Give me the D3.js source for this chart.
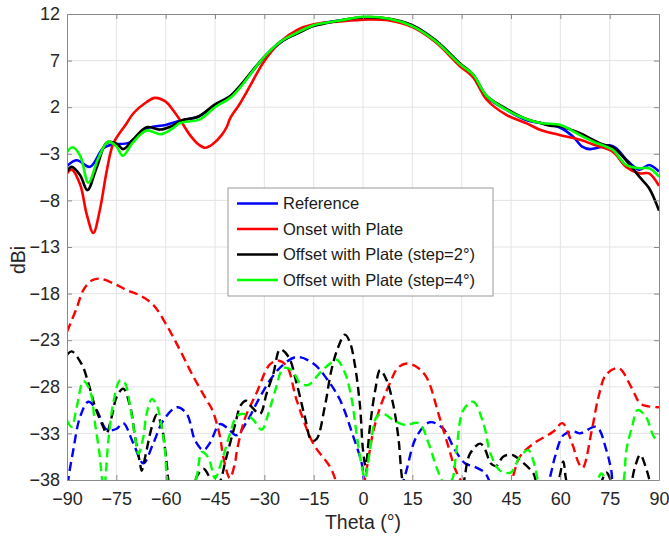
<!DOCTYPE html>
<html>
<head>
<meta charset="utf-8">
<script src="https://cdn.jsdelivr.net/npm/d3@7"></script>
<style>
  body { margin: 0; background: #fff; }
  svg { font-family: Arial, "Liberation Sans", sans-serif; }
</style>
</head>
<body>
<svg width="669" height="538"></svg>
<script>
// tick values
var xTicks = [-90, -75, -60, -45, -30, -15, 0, 15, 30, 45, 60, 75, 90];
var yTicks = [-38, -33, -28, -23, -18, -13, -8, -3, 2, 7, 12];

var seriesNames = ["Reference", "Onset with Plate", "Offset with Plate (step=2°)", "Offset with Plate (step=4°)"];
var seriesColors = ["#0000ff", "#ff0000", "#000000", "#00ff00"];

// solid curves (main lobe), [theta, dBi]
var refSolid = [[-90,-4.3],[-87,-3.7],[-83,-4.4],[-79,-2.4],[-76,-2.0],[-71,-1.8],[-66,-0.3],[-60,0.1],[-55,0.6],[-50,1.0],[-45,2.2],[-40.4,3.1],[-37.4,4.2],[-30.3,7.25],[-25.2,8.9],[-20,10.0],[-15,10.8],[-7,11.3],[0,11.55],[8,11.4],[15,10.7],[22,9.1],[29.5,6.6],[33.5,5.4],[37.6,3.1],[43.7,1.7],[49.8,0.6],[54,0.3],[60,-0.2],[64,-1.2],[66.5,-2.2],[69,-2.5],[72,-2.3],[75,-2.1],[77,-2.4],[80,-3.6],[84,-4.7],[87,-4.2],[90,-4.9]];
var onsetSolid = [[-90,-5.1],[-88.6,-4.7],[-86,-6.3],[-84,-9.5],[-82,-11.5],[-80,-9.0],[-78,-5.0],[-75.9,-1.9],[-72,0.2],[-69.8,1.35],[-66,2.5],[-63.3,3.0],[-60,2.6],[-57.8,1.7],[-55,0.3],[-52.6,-1.0],[-50,-2.0],[-48,-2.35],[-45.5,-1.9],[-43,-1.0],[-41.4,-0.1],[-40.4,0.8],[-37.4,2.4],[-34,4.5],[-30.3,6.8],[-25.2,9.0],[-20,10.3],[-15,10.9],[-7,11.2],[0,11.4],[8,11.3],[15,10.6],[22,9.0],[29.5,6.4],[33.5,5.2],[37.6,2.8],[43.7,1.16],[49.8,0.27],[54,-0.45],[60,-1.0],[66,-1.5],[70,-2.0],[76,-2.8],[80,-4.4],[84,-5.1],[87,-5.1],[90,-6.45]];
var off2Solid = [[-90,-4.9],[-88.6,-4.4],[-86,-5.3],[-83.8,-6.9],[-81,-4.5],[-77.9,-1.8],[-75,-1.9],[-72.9,-2.5],[-70,-1.5],[-65.8,-0.15],[-61.7,-0.4],[-58,0.0],[-55,0.6],[-50,1.0],[-45,2.3],[-40.4,3.2],[-37.4,4.3],[-30.3,7.3],[-25.2,9.0],[-20,9.9],[-15,10.7],[-7,11.3],[0,11.65],[8,11.5],[15,10.8],[22,9.2],[29.5,6.7],[33.5,5.5],[37.6,3.2],[43.7,1.8],[49.8,0.7],[54,0.3],[57,0.0],[60,-0.05],[63,-0.4],[66,-0.8],[70,-1.5],[73,-2.0],[76,-2.3],[80,-3.7],[84,-5.45],[87,-6.7],[90,-9.1]];
var off4Solid = [[-90,-2.8],[-88.3,-2.3],[-86,-3.2],[-83.5,-6.1],[-80.5,-3.5],[-77.5,-1.7],[-75,-2.2],[-73,-3.2],[-70,-1.8],[-65.8,-0.5],[-61.5,-0.9],[-58,-0.3],[-55.6,0.3],[-49.6,0.7],[-45,2.0],[-40.4,3.0],[-37.4,4.1],[-30.3,7.3],[-25.2,9.0],[-20,10.0],[-15,10.8],[-7,11.3],[0,11.7],[8,11.5],[15,10.7],[22,9.1],[29.5,6.6],[33.5,5.5],[37.6,3.2],[43.7,1.7],[49.8,0.7],[54,0.3],[60,0.1],[63,-0.4],[66,-1.0],[70,-1.7],[73,-2.1],[76,-2.6],[80,-4.2],[84,-4.55],[87,-4.55],[90,-5.45]];

// dashed curves (lower level), [theta, dBi]
var refDashed = [[-90,-40],[-89.6,-38],[-88.1,-34.8],[-86,-31.2],[-83.5,-29.6],[-81,-30.5],[-77.9,-32.6],[-74.9,-32.5],[-72.9,-31.9],[-69.8,-34.1],[-66.8,-36.2],[-63.8,-34.1],[-60.7,-31.6],[-56.6,-30.2],[-53.6,-30.9],[-51,-33.8],[-48.5,-34.8],[-46.5,-34],[-43.5,-32],[-41,-32.5],[-38.5,-33.2],[-35.4,-31.8],[-31.8,-29.4],[-28.3,-27.3],[-24.8,-25.8],[-20.2,-24.8],[-15.1,-25.5],[-11.1,-27.1],[-7,-29.4],[-2.9,-33.4],[-0.4,-36.2],[0.5,-38.5],[3,-42],[10,-42],[12,-38.5],[13.2,-37],[16.2,-33.4],[20.3,-31.8],[24.4,-32.5],[28,-34.8],[31,-36.2],[34,-36.6],[37,-37.2],[39,-38.5],[45,-42],[55,-40],[57,-37.5],[58.4,-35.5],[60.9,-33.2],[64,-32.8],[66,-33.0],[71,-32.3],[74,-34.8],[75.5,-37],[77,-40],[90,-42]];
var onsetDashed = [[-90,-22.1],[-87,-19.5],[-85,-17.6],[-82.5,-16.6],[-80,-16.4],[-75.9,-16.9],[-72,-17.6],[-67.8,-18.2],[-63.8,-19.2],[-59.7,-21.4],[-55.6,-24.1],[-51.6,-26.9],[-47.6,-29.4],[-45.8,-30.5],[-43.5,-33.3],[-42.5,-35.5],[-40.5,-37.8],[-39,-36.3],[-38.3,-34.8],[-36,-31.5],[-32.3,-28.6],[-28.3,-25.6],[-25.5,-25.2],[-23,-25.9],[-20.2,-29.4],[-15.1,-34.1],[-10,-36.6],[-8,-38.3],[-5,-41],[-1,-40],[1,-37],[3,-33],[5.2,-30.2],[8.2,-27.6],[10.5,-26.0],[13.2,-25.5],[16,-25.8],[19.2,-26.9],[23.2,-31.2],[26.2,-34.7],[28,-36.8],[30,-38.2],[33,-39.5],[38,-41],[43,-39.5],[45.2,-38],[47.7,-35.5],[51.8,-34.1],[57.9,-32.8],[60.6,-31.9],[63.6,-34.1],[65.6,-36.2],[66.8,-36.7],[69.6,-32.6],[71.6,-29.1],[73.9,-26.7],[77.7,-26.0],[81.8,-28.2],[84.3,-29.8],[86.8,-30.1],[90,-30.2]];
var off2Dashed = [[-90,-24.6],[-88.6,-24.2],[-85.5,-25.6],[-83.5,-27.6],[-81.5,-30.1],[-79,-32.3],[-78,-33.0],[-76.4,-31.2],[-74.9,-29.1],[-72.9,-28.2],[-70.8,-30.1],[-69.3,-33.4],[-67.8,-36.2],[-67.3,-37.0],[-65.8,-34.8],[-64.2,-32.3],[-62.7,-31.0],[-61.2,-32.3],[-59.7,-36.2],[-59,-38.3],[-56,-41],[-52,-39.5],[-50.5,-37.6],[-48.5,-36.8],[-46.8,-37.6],[-45,-39],[-43.5,-38.2],[-41.5,-35.5],[-39,-32.2],[-37.2,-30.0],[-35.5,-29.5],[-33.5,-30.3],[-31.3,-30.9],[-29.3,-28.7],[-27.2,-26.5],[-25.2,-24.0],[-22.6,-24.8],[-20.2,-27.6],[-17.7,-31.2],[-15.6,-33.8],[-14.1,-33.6],[-11.6,-30.1],[-9.6,-26.2],[-7.5,-23.7],[-5.5,-22.4],[-4,-23.2],[-2.4,-25.8],[-0.9,-30.1],[0,-34.8],[0.8,-36.5],[2.1,-32.3],[3.7,-28.4],[5.2,-26.2],[7.2,-27.3],[9.3,-30.1],[10.8,-33.6],[11.8,-37.6],[13,-40],[25,-42],[30,-39],[32.5,-35.2],[35.6,-34.1],[37.2,-34.8],[38.8,-36.2],[40.5,-36.5],[42.6,-35.5],[45.2,-35.3],[48.2,-36],[51.8,-37.3],[53,-38.5],[57,-40],[59.5,-38],[60.9,-36],[62,-38.3],[66,-41],[72,-38.5],[74,-37.2],[76,-38.5],[80,-40],[82.7,-36.6],[84.3,-35.3],[86.3,-37],[87.5,-38.5],[90,-41]];
var off4Dashed = [[-90,-31.6],[-88.6,-32.3],[-87,-30.1],[-85,-27.4],[-83,-28.4],[-81.5,-31.9],[-80,-35.5],[-79.3,-38],[-78.7,-38.8],[-77.5,-34],[-75.8,-29.5],[-73.9,-27.3],[-72.4,-27.6],[-70.8,-30.1],[-69.3,-33.4],[-68.3,-35.2],[-66.8,-33.4],[-65.8,-30.9],[-64.2,-29.3],[-62.7,-30.0],[-61.2,-32.3],[-60.2,-34.8],[-59.5,-38],[-57,-41],[-52.5,-39.5],[-50.5,-37.5],[-49,-35],[-47,-35.6],[-45,-37.8],[-43,-36],[-40.4,-33],[-38.5,-31.2],[-36.4,-30.9],[-33.5,-31.5],[-30.8,-32.6],[-28.8,-30.9],[-26.7,-28.4],[-24.2,-26.0],[-21.7,-26.2],[-19.1,-27.6],[-16.6,-27.8],[-13.1,-26.5],[-10,-25.5],[-8,-25.1],[-5.5,-26.5],[-3.4,-29.4],[-2.4,-31.9],[-0.9,-35.5],[0.6,-37.8],[2.1,-34.8],[4.2,-31.2],[6.2,-30.9],[9.3,-31.6],[12.8,-32.1],[16.9,-31.9],[20.3,-34.4],[22.3,-36.6],[25,-38.5],[27,-38],[28.4,-34.8],[30.5,-30.5],[33.5,-29.6],[36.6,-31.9],[38.8,-35.2],[41.7,-37],[44.9,-37.2],[47.7,-35.5],[50.3,-34.8],[52.3,-36.6],[53.5,-38.3],[60,-41],[70,-39],[72.5,-37.3],[74.5,-38.5],[78,-40],[79.3,-38],[80.1,-34.8],[81.8,-32.3],[83.5,-30.5],[86,-31.2],[88.5,-33.4],[90,-33.8]];

var solidSeries = [refSolid, onsetSolid, off2Solid, off4Solid];
var dashedSeries = [refDashed, onsetDashed, off2Dashed, off4Dashed];

var svg = d3.select("svg"),
    margin = {top: 14, right: 10, bottom: 58, left: 67},
    width = +svg.attr("width") - margin.left - margin.right,
    height = +svg.attr("height") - margin.top - margin.bottom;

var x = d3.scaleLinear().domain([-90, 90]).range([0, width]);
var y = d3.scaleLinear().domain([-38, 12]).range([height, 0]);

var g = svg.append("g").attr("transform", "translate(" + margin.left + "," + margin.top + ")");

g.append("clipPath").attr("id", "plotclip")
  .append("rect").attr("width", width).attr("height", height);

// grid
g.append("g").selectAll("line").data(xTicks.slice(1, -1)).enter().append("line")
  .attr("x1", x).attr("x2", x).attr("y1", 0).attr("y2", height)
  .attr("stroke", "#e4e4e4").attr("stroke-width", 1);
g.append("g").selectAll("line").data(yTicks.slice(1, -1)).enter().append("line")
  .attr("y1", y).attr("y2", y).attr("x1", 0).attr("x2", width)
  .attr("stroke", "#e4e4e4").attr("stroke-width", 1);

var line = d3.line()
  .x(function(d) { return x(d[0]); })
  .y(function(d) { return y(d[1]); })
  .curve(d3.curveCatmullRom.alpha(0.5));

var plot = g.append("g").attr("clip-path", "url(#plotclip)");

dashedSeries.forEach(function(s, i) {
  plot.append("path").datum(s)
    .attr("d", line)
    .attr("fill", "none")
    .attr("stroke", seriesColors[i])
    .attr("stroke-width", 2.4)
    .attr("stroke-dasharray", "9,5");
});
solidSeries.forEach(function(s, i) {
  plot.append("path").datum(s)
    .attr("d", line)
    .attr("fill", "none")
    .attr("stroke", seriesColors[i])
    .attr("stroke-width", 2.6);
});

// axes, ticks inside like matlab
var axisColor = "#8a8a8a";
var xAxis = g.append("g").attr("transform", "translate(0," + height + ")")
  .call(d3.axisBottom(x).tickValues(xTicks).tickSizeInner(-5).tickSizeOuter(0).tickPadding(12));
var yAxis = g.append("g")
  .call(d3.axisLeft(y).tickValues(yTicks).tickSizeInner(-5).tickSizeOuter(0).tickPadding(7));
var xTop = g.append("g")
  .call(d3.axisTop(x).tickValues(xTicks).tickSizeInner(-5).tickSizeOuter(0).tickFormat(""));
var yRight = g.append("g").attr("transform", "translate(" + width + ",0)")
  .call(d3.axisRight(y).tickValues(yTicks).tickSizeInner(-5).tickSizeOuter(0).tickFormat(""));

[xAxis, yAxis, xTop, yRight].forEach(function(a) {
  a.select(".domain").attr("stroke", axisColor);
  a.selectAll(".tick line").attr("stroke", axisColor);
  a.selectAll("text").attr("fill", "#262626").style("font-size", "18px")
    .style("font-family", "Arial, 'Liberation Sans', sans-serif");
});

svg.append("text")
  .attr("x", margin.left + width / 2).attr("y", 529)
  .attr("text-anchor", "middle").attr("fill", "#262626")
  .style("font-size", "19.5px").text("Theta (°)");
svg.append("text")
  .attr("transform", "translate(25," + (margin.top + height / 2 + 13) + ") rotate(-90)")
  .attr("text-anchor", "middle").attr("fill", "#262626")
  .style("font-size", "19.5px").text("dBi");

// legend
var legend = svg.append("g").attr("transform", "translate(228,188)");
legend.append("rect").attr("width", 265).attr("height", 108)
  .attr("fill", "#fff").attr("stroke", "#9a9a9a").attr("stroke-width", 1);
var item = legend.selectAll(".item").data(seriesNames).enter().append("g")
  .attr("transform", function(d, i) { return "translate(0," + (15.5 + i * 25.5) + ")"; });
item.append("line").attr("x1", 9).attr("x2", 50)
  .attr("stroke", function(d, i) { return seriesColors[i]; }).attr("stroke-width", 2.6);
item.append("text").attr("x", 55).attr("dy", "0.35em")
  .attr("fill", "#1a1a1a").style("font-size", "16.5px").text(function(d) { return d; });
</script>
</body>
</html>
